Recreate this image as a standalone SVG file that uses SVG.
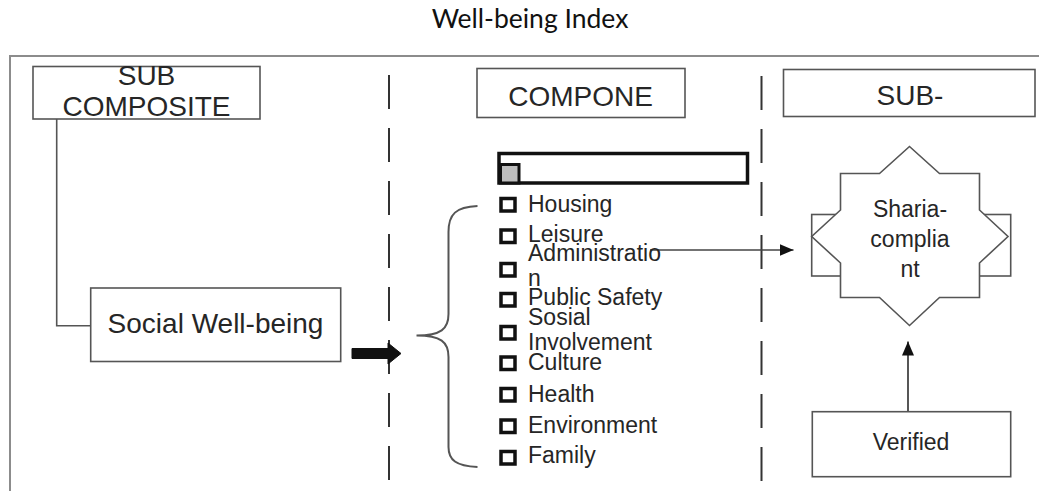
<svg xmlns="http://www.w3.org/2000/svg" width="1039" height="491" viewBox="0 0 1039 491">
  <defs>
    <style>
      .box { fill: #ffffff; stroke: #555555; stroke-width: 1.6; }
      .head { font-family: "Liberation Sans", Arial, sans-serif; font-size: 28px; fill: #262626; text-anchor: middle; }
      .lbl { font-family: "Liberation Sans", Arial, sans-serif; font-size: 23px; fill: #262626; }
      .mid { text-anchor: middle; }
      .chk { fill: #ffffff; stroke: #111111; stroke-width: 3.5; }
      .dash { fill: none; stroke: #333333; stroke-width: 2; stroke-dasharray: 34 19; }
      .wire { fill: none; stroke: #555555; stroke-width: 1.6; }
    </style>
    <marker id="tip" markerWidth="14" markerHeight="12" refX="14" refY="6" orient="auto" markerUnits="userSpaceOnUse">
      <path d="M0,0 L14,6 L0,12 Z" fill="#111111"/>
    </marker>
  </defs>

  <rect x="0" y="0" width="1039" height="491" fill="#ffffff"/>

  <!-- title -->
  <text x="530" y="28" font-family="Lato, 'Open Sans', sans-serif" font-size="26.5" fill="#111111" text-anchor="middle">Well-being Index</text>

  <!-- outer frame -->
  <path d="M10,491 L10,56 L1039,56" fill="none" stroke="#8c8c8c" stroke-width="2"/>

  <!-- column separators -->
  <g id="separators">
    <line class="dash" x1="389" y1="75" x2="389" y2="482"/>
    <line class="dash" x1="761.5" y1="76" x2="761.5" y2="482"/>
  </g>

  <!-- column headers -->
  <g id="hdr-sub-composite">
    <rect class="box" x="33" y="66.5" width="227" height="52.5"/>
    <text class="head" x="146.5" y="85">SUB</text>
    <text class="head" x="146.5" y="115.5">COMPOSITE</text>
  </g>
  <g id="hdr-component">
    <rect class="box" x="477" y="68.5" width="208" height="49"/>
    <text class="head" x="580.5" y="105.5">COMPONE</text>
  </g>
  <g id="hdr-sub">
    <rect class="box" x="783.5" y="69.5" width="251.5" height="47"/>
    <text class="head" x="910" y="105">SUB-</text>
  </g>

  <!-- connectors -->
  <g id="connectors">
    <path class="wire" d="M56.7,119 L56.7,325.7 L90.7,325.7"/>
    <!-- bold block arrow into the component list -->
    <path d="M352,348.5 L388,348.5 L388,343 L401,353.5 L388,364 L388,358.5 L352,358.5 Z" fill="#111111" stroke="#111111" stroke-width="1" stroke-linejoin="round"/>
    <!-- curly brace grouping the components -->
    <path d="M477.5,206 C456,207 448.5,214 448.5,232 L448.5,314 C448.5,329 441,335.5 416.5,335.5 C441,335.5 448.5,342 448.5,357 L448.5,447 C448.5,460 456,466 477.5,467" fill="none" stroke="#555555" stroke-width="2"/>
    <line x1="650" y1="250" x2="793.5" y2="250" stroke="#444444" stroke-width="1.6" marker-end="url(#tip)"/>
    <line x1="908" y1="411.5" x2="908" y2="341.5" stroke="#444444" stroke-width="1.8" marker-end="url(#tip)"/>
  </g>

  <!-- left column -->
  <g id="social-well-being">
    <rect class="box" x="90.7" y="288" width="250" height="73.5"/>
    <text class="head" x="215.5" y="333">Social Well-being</text>
  </g>

  <!-- component list -->
  <g id="component-list">
    <rect x="499" y="153.5" width="248.5" height="29.5" fill="#ffffff" stroke="#111111" stroke-width="3.5"/>
    <rect x="500.5" y="164.5" width="18.5" height="18.5" fill="#bdbdbd" stroke="#111111" stroke-width="3"/>

    <rect class="chk" x="501" y="198.5" width="14" height="12.5"/>
    <text class="lbl" x="528" y="211.5">Housing</text>

    <rect class="chk" x="501" y="230" width="14" height="12.5"/>
    <text class="lbl" x="528" y="242">Leisure</text>

    <rect class="chk" x="501" y="263.5" width="14" height="12.5"/>
    <text class="lbl" x="528" y="260.5">Administratio</text>
    <text class="lbl" x="528" y="286">n</text>

    <rect class="chk" x="501" y="293.5" width="14" height="12.5"/>
    <text class="lbl" x="528" y="305">Public Safety</text>

    <rect class="chk" x="501" y="326.5" width="14" height="12.5"/>
    <text class="lbl" x="528" y="325">Sosial</text>
    <text class="lbl" x="528" y="350">Involvement</text>

    <rect class="chk" x="501" y="357" width="14" height="12.5"/>
    <text class="lbl" x="528" y="370">Culture</text>

    <rect class="chk" x="501" y="388.5" width="14" height="12.5"/>
    <text class="lbl" x="528" y="401.5">Health</text>

    <rect class="chk" x="501" y="420" width="14" height="12.5"/>
    <text class="lbl" x="528" y="433">Environment</text>

    <rect class="chk" x="501" y="451.5" width="14" height="12.5"/>
    <text class="lbl" x="528" y="463">Family</text>
  </g>

  <!-- right column: eight-point star over a bar -->
  <g id="sharia-compliant">
    <rect class="box" x="811.7" y="214.5" width="199" height="61.5"/>
    <polygon class="box" points="909.5,146.5 939.5,173.5 979.5,173.5 979.5,210 1008,236.5 979.5,263 979.5,297.5 939.5,297.5 909.5,325.5 879.5,297.5 840.5,297.5 840.5,263 811.7,236.5 840.5,210 840.5,173.5 879.5,173.5"/>
    <text class="lbl mid" x="910" y="216.5">Sharia-</text>
    <text class="lbl mid" x="910" y="246.5">complia</text>
    <text class="lbl mid" x="910" y="276.5">nt</text>
  </g>

  <g id="verified">
    <rect class="box" x="812.3" y="411.7" width="198.4" height="65"/>
    <text class="lbl mid" x="911" y="450">Verified</text>
  </g>
</svg>
